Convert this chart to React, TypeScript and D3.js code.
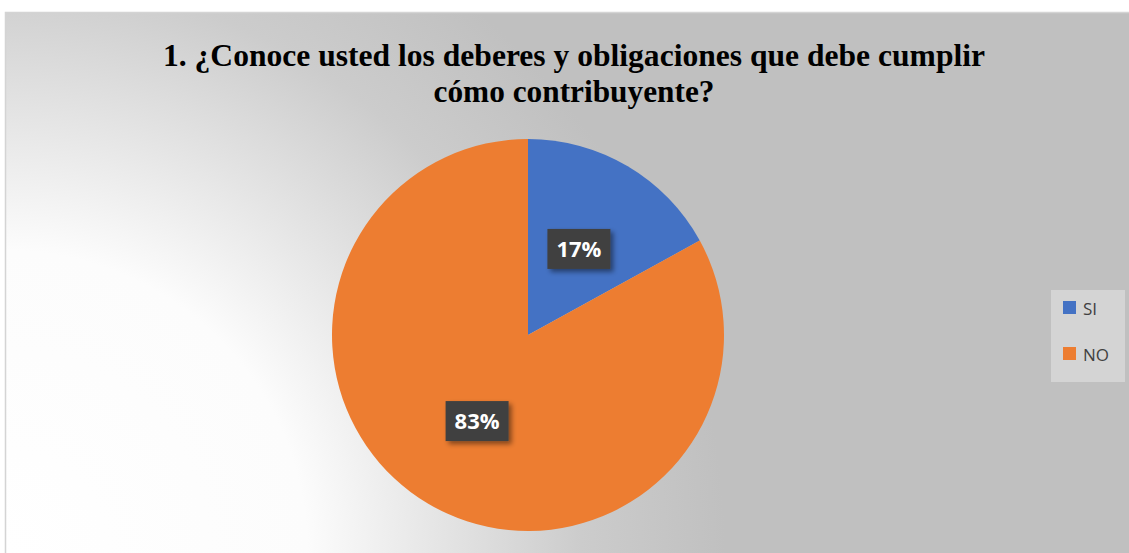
import * as d3 from "d3";

const W = 1129;
const H = 553;

const categories = ["SI", "NO"];
const values = [17, 83];
const colors = ["#4472C4", "#ED7D31"];
const titleLines = [
  "1. ¿Conoce usted los deberes y obligaciones que debe cumplir",
  "cómo contribuyente?",
];
// measured widths of the title lines in the reference
const titleWidths = [822, 281];

const CX = 528;
const CY = 335;
const R = 196;
const LABEL_R = 100;

export default function App() {
  const pie = d3.pie<number>().sort(null).value((d) => d);
  const arcs = pie(values);
  const arcGen = d3.arc<d3.PieArcDatum<number>>().innerRadius(0).outerRadius(R);
  const labelArc = d3
    .arc<d3.PieArcDatum<number>>()
    .innerRadius(LABEL_R)
    .outerRadius(LABEL_R);
  const total = d3.sum(values);
  const fmt = (v: number) => `${Math.round((v / total) * 100)}%`;

  return (
    <svg
      width={W}
      height={H}
      style={{ position: "absolute", left: 0, top: 0 }}
    >
      <defs>
        <radialGradient
          id="bg"
          gradientUnits="userSpaceOnUse"
          cx={5}
          cy={H}
          r={720}
        >
          <stop offset="0" stopColor="#ffffff" />
          <stop offset="0.42" stopColor="#fcfcfc" />
          <stop offset="0.8" stopColor="#cccccc" />
          <stop offset="1" stopColor="#c0c0c0" />
        </radialGradient>
        <filter id="shadow" x="-30%" y="-30%" width="170%" height="170%">
          <feDropShadow dx="3" dy="3" stdDeviation="2.5" floodColor="#000" floodOpacity="0.45" />
        </filter>
      </defs>
      <rect x={0} y={0} width={W} height={H} fill="#ffffff" />
      <rect
        x={5.5}
        y={12.5}
        width={W}
        height={H}
        fill="url(#bg)"
        stroke="#d4d4d4"
        strokeWidth={1.5}
      />

      {titleLines.map((t, i) => (
        <text
          key={i}
          x={574}
          y={66 + i * 36}
          textAnchor="middle"
          textLength={titleWidths[i]}
          lengthAdjust="spacingAndGlyphs"
          fontFamily="'Liberation Serif', 'Times New Roman', serif"
          fontWeight="bold"
          fontSize={32}
          fill="#000"
        >
          {t}
        </text>
      ))}

      <g transform={`translate(${CX},${CY})`}>
        {arcs.map((a, i) => (
          <path key={i} d={arcGen(a) ?? ""} fill={colors[i]} />
        ))}
        {arcs.map((a, i) => {
          const [lx, ly] = labelArc.centroid(a);
          return (
            <g key={i} transform={`translate(${lx},${ly})`}>
              <rect
                x={-31.5}
                y={-20}
                width={63}
                height={40}
                fill="#404040"
                filter="url(#shadow)"
              />
              <text
                x={0}
                y={8}
                textAnchor="middle"
                fontFamily="'Open Sans', 'Liberation Sans', sans-serif"
                fontWeight="bold"
                fontSize={22}
                fill="#ffffff"
              >
                {fmt(a.data)}
              </text>
            </g>
          );
        })}
      </g>

      <rect x={1051} y={290} width={74} height={92} fill="#d4d4d4" />
      {categories.map((c, i) => (
        <g key={c} transform={`translate(1063,${308 + i * 46})`}>
          <rect x={0} y={-7} width={13} height={13} fill={colors[i]} />
          <text
            x={20}
            y={6.5}
            fontFamily="'Open Sans', 'Liberation Sans', sans-serif"
            fontSize={17}
            fill="#404040"
          >
            {c}
          </text>
        </g>
      ))}
    </svg>
  );
}
